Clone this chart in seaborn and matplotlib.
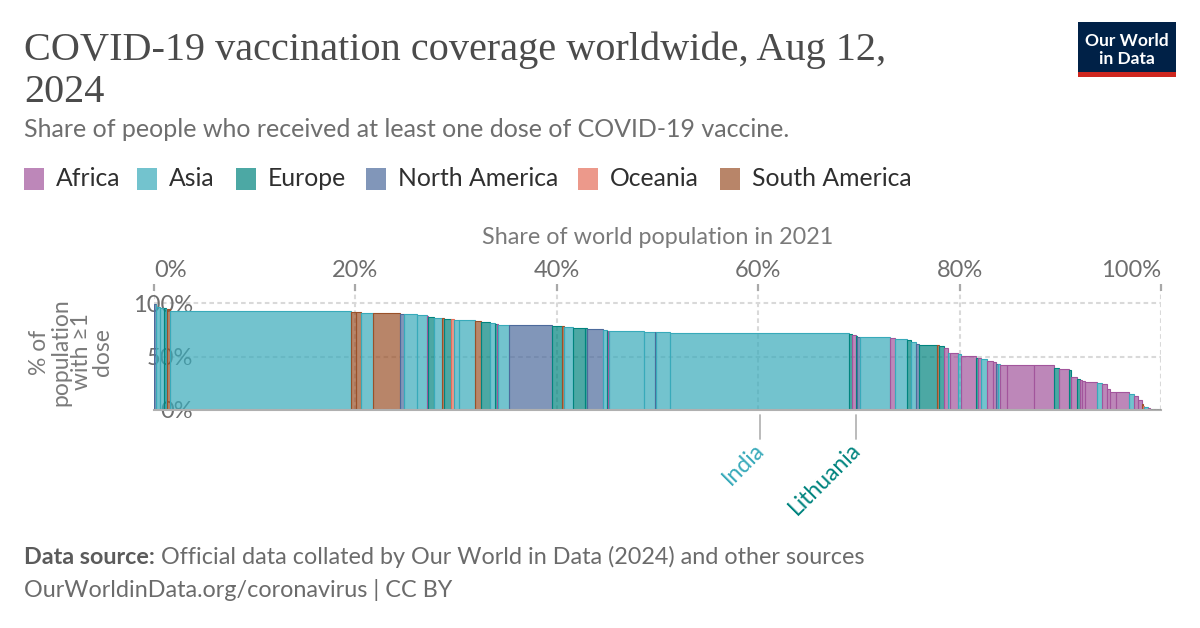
import matplotlib
matplotlib.use("Agg")
import matplotlib.pyplot as plt
import seaborn as sns
import numpy as np
from matplotlib.patches import Rectangle
from matplotlib.transforms import blended_transform_factory

# ---------------- data ----------------
continents = ["Africa", "Asia", "Europe", "North America", "Oceania", "South America"]
continent_colors = ["#A2559C", "#38AABA", "#00847E", "#4C6A9C", "#E56E5A", "#9A5129"]

region = [
    "North America", "Asia", "Asia", "Asia", "Europe", "Asia", "South America",
    "Asia",  # China
    "South America", "South America", "Asia", "South America", "North America",
    "Asia", "Asia", "Africa", "Europe", "Asia", "South America", "Europe",
    "Oceania", "Asia", "Asia", "South America", "Europe", "Asia", "Europe",
    "Africa", "Asia", "North America", "Europe", "South America", "Asia",
    "Europe", "Europe", "North America", "Asia", "Europe", "Africa", "Asia",
    "Asia", "North America", "Asia",
    "Asia",  # India
    "Europe", "Africa",
    "Europe",  # Lithuania
    "North America", "Asia", "Africa", "Asia", "Europe", "Asia",
    "North America", "Europe", "South America", "Europe", "Africa", "Asia",
    "Africa", "Asia", "Africa", "Europe", "Africa", "Asia", "Africa", "Africa",
    "North America", "Asia", "Africa", "Africa", "Africa", "Europe", "Africa",
    "Europe", "Africa", "Europe", "Africa", "Africa", "Africa", "Asia",
    "Africa", "Africa", "Africa", "Africa", "Asia", "Africa", "Africa",
    "South America", "Oceania", "Asia", "Africa", "Asia", "Africa", "Africa",
    "Africa",
]

# share of world population in 2021 (%) - bar widths
pop_share = [
    0.15, 0.08, 0.37, 0.40, 0.20, 0.13, 0.24,
    17.97,
    0.53, 0.47, 1.25, 2.65, 0.43,
    1.20, 1.02, 0.16, 0.60, 0.73, 0.20, 0.72,
    0.33, 0.47, 1.59, 0.60, 0.89, 0.50, 0.17,
    0.16, 1.09, 4.27, 0.93, 0.23, 0.92,
    1.16, 0.17, 1.65, 0.34, 0.10, 0.16, 3.45,
    1.12, 0.07, 1.39,
    17.78,
    0.27, 0.43,
    0.04,
    0.35, 2.98, 0.50, 1.16, 0.40, 0.53,
    0.23, 1.83, 0.16, 0.50, 0.40, 0.27,
    0.72, 0.34, 1.52, 0.13, 0.34, 0.56, 0.63, 0.33,
    0.20, 0.13, 0.67, 2.71, 1.96, 0.55, 0.97,
    0.20, 0.64, 0.26, 0.24, 0.23, 1.19, 0.57,
    0.50, 0.26, 0.57, 1.32, 0.44, 0.40, 0.43,
    0.12, 0.10, 0.43, 0.17, 0.33, 0.30, 0.25,
    0.20,
]

# share of people with at least one dose (%) - bar heights
vaccinated = [
    99.0, 99.0, 97.0, 96.0, 95.5, 95.0, 94.5,
    92.7,
    91.8, 91.5, 91.2, 90.6, 90.0,
    89.8, 89.3, 88.0, 86.9, 86.6, 86.0, 85.6,
    85.0, 84.5, 84.0, 83.1, 82.5, 81.5, 81.0,
    80.5, 79.7, 79.2, 79.0, 78.5, 77.5,
    76.8, 76.5, 75.9, 75.0, 74.5, 74.2, 73.8,
    73.1, 73.0, 72.8,
    72.4,
    71.5, 70.3,
    69.5,
    68.7, 68.1, 67.2, 66.5, 65.6, 63.4,
    62.0, 60.9, 60.5, 59.7, 57.8, 53.7,
    53.1, 52.2, 50.8, 49.0, 48.5, 47.5, 46.2, 44.8,
    43.5, 43.0, 42.2, 42.0, 41.9, 39.4, 38.4,
    37.5, 31.2, 28.8, 27.8, 26.9, 26.5, 25.6,
    24.4, 19.4, 17.2, 16.6, 15.0, 13.1, 9.4,
    5.3, 4.0, 3.1, 1.6, 0.0, 0.0, 0.0,
    0.0,
]

labelled_countries = ["India", "Lithuania"]
labelled_index = [43, 46]

x_ticks = [0, 20, 40, 60, 80, 100]
x_tick_labels = ["0%", "20%", "40%", "60%", "80%", "100%"]
y_ticks = [0, 50, 100]
y_tick_labels = ["0%", "50%", "100%"]

title_line1 = "COVID-19 vaccination coverage worldwide, Aug 12,"
title_line2 = "2024"
subtitle = "Share of people who received at least one dose of COVID-19 vaccine."
x_label = "Share of world population in 2021"
y_label = "% of\npopulation\nwith \u22651\ndose"
source_bold = "Data source:"
source_text = "Official data collated by Our World in Data (2024) and other sources"
footer2 = "OurWorldinData.org/coronavirus | CC BY"

# ---------------- styling ----------------
sns.set_theme(style="white")
plt.rcParams["font.family"] = ["Lato", "DejaVu Sans"]

W, H = 1200, 628
fig = plt.figure(figsize=(W / 100, H / 100), dpi=100)
fig.patch.set_facecolor("white")


def fx(px):
    return px / W


def fy(py):
    return 1 - py / H


palette = dict(zip(continents, sns.color_palette(continent_colors)))
FILL_ALPHA = 0.7
GREY = "#6e6e6e"

ax = fig.add_axes([fx(154), fy(410), (1161 - 154) / W, (410 - 290.5) / H])

lefts = np.concatenate([[0.0], np.cumsum(pop_share)[:-1]])
for l, w, v, r in zip(lefts, pop_share, vaccinated, region):
    base = palette[r]
    if v <= 0:
        ax.bar(l, 0, width=w, align="edge", color="none",
               edgecolor="#9a9a9a", linewidth=2.2, zorder=3)
    else:
        ax.bar(l, v, width=w, align="edge", facecolor=(*base, FILL_ALPHA),
               edgecolor=base, linewidth=0.8, zorder=2)

ax.set_xlim(0, 100)
ax.set_ylim(0, 112)

ax.set_xticks(x_ticks)
ax.set_xticklabels(x_tick_labels)
ax.xaxis.tick_top()
ax.tick_params(axis="x", which="both", top=True, bottom=False, length=5,
               width=1.6, color="#a8a8a8", labelsize=17, labelcolor=GREY,
               pad=2)
xt = ax.get_xticklabels()
xt[0].set_ha("left")
xt[-1].set_ha("right")

ax.set_yticks(y_ticks)
ax.set_yticklabels(y_tick_labels)
ax.tick_params(axis="y", length=0, pad=-28, labelsize=17, labelcolor=GREY)

ax.grid(True, axis="both", color="#d9d9d9", linestyle=(0, (2.2, 1.6)),
        linewidth=1.5)
ax.set_axisbelow(True)

for s in ["top", "left", "right"]:
    ax.spines[s].set_visible(False)
ax.spines["bottom"].set_color("#b0b0b0")
ax.spines["bottom"].set_linewidth(1.5)

ax.xaxis.set_label_position("top")
ax.set_xlabel(x_label, fontsize=16.8, color="#7a7a7a", labelpad=11)

# country annotations
blend = blended_transform_factory(ax.transData, ax.transAxes)
for name, idx in zip(labelled_countries, labelled_index):
    c = lefts[idx] + pop_share[idx] / 2
    col = palette[region[idx]]
    ax.plot([c, c], [-0.045, -0.245], transform=blend, color="#b5b5b5",
            lw=1.3, clip_on=False)
    ax.annotate(name, xy=(c, -0.245), xycoords=blend, xytext=(1, -7),
                textcoords="offset pixels", rotation=45,
                rotation_mode="anchor", ha="right", va="center",
                fontsize=16.5, color=col, annotation_clip=False)

# y label
fig.text(fx(71), fy(352), y_label, rotation=90, ha="center", va="center",
         multialignment="center", fontsize=16.5, color="#7a7a7a",
         linespacing=1.0)

# title / subtitle
fig.text(fx(24), fy(60), title_line1, family=["Liberation Serif", "DejaVu Serif"],
         fontsize=29, color="#4b4b4b", va="baseline")
fig.text(fx(24), fy(102), title_line2, family=["Liberation Serif", "DejaVu Serif"],
         fontsize=29, color="#4b4b4b", va="baseline")
fig.text(fx(24), fy(137), subtitle, fontsize=18, color=GREY, va="baseline")

# legend
leg_x = [24, 137, 236, 366, 578, 720]
for xpx, name in zip(leg_x, continents):
    base = palette[name]
    fig.add_artist(Rectangle((fx(xpx), fy(190)), 20 / W, 22 / H,
                             transform=fig.transFigure,
                             facecolor=(*base, FILL_ALPHA), edgecolor="none"))
    fig.text(fx(xpx + 32), fy(179), name, fontsize=17.8, color="#2f2f2f",
             va="center", ha="left")

# footer
t1 = fig.text(fx(24), fy(564), source_bold, fontsize=16.8, color="#5b5b5b",
              weight="bold", va="baseline")
ax.annotate(" " + source_text, xy=(1, 0), xycoords=t1, xytext=(0, 0),
            textcoords="offset points", va="bottom", ha="left", fontsize=16.8,
            color="#6b6b6b", annotation_clip=False)
fig.text(fx(24), fy(597), footer2, fontsize=16.8, color="#6b6b6b", va="baseline")

# logo
fig.add_artist(Rectangle((fx(1078), fy(72)), (1176 - 1078) / W, (72 - 22) / H,
                         transform=fig.transFigure, facecolor="#002147",
                         edgecolor="none"))
fig.add_artist(Rectangle((fx(1078), fy(77)), (1176 - 1078) / W, 5 / H,
                         transform=fig.transFigure, facecolor="#CE261E",
                         edgecolor="none"))
fig.text(fx(1127), fy(41), "Our World", ha="center", va="center",
         fontsize=12.5, color="white", weight="bold")
fig.text(fx(1127), fy(59), "in Data", ha="center", va="center",
         fontsize=12.5, color="white", weight="bold")

fig.savefig("out.png", dpi=100, facecolor="white")
